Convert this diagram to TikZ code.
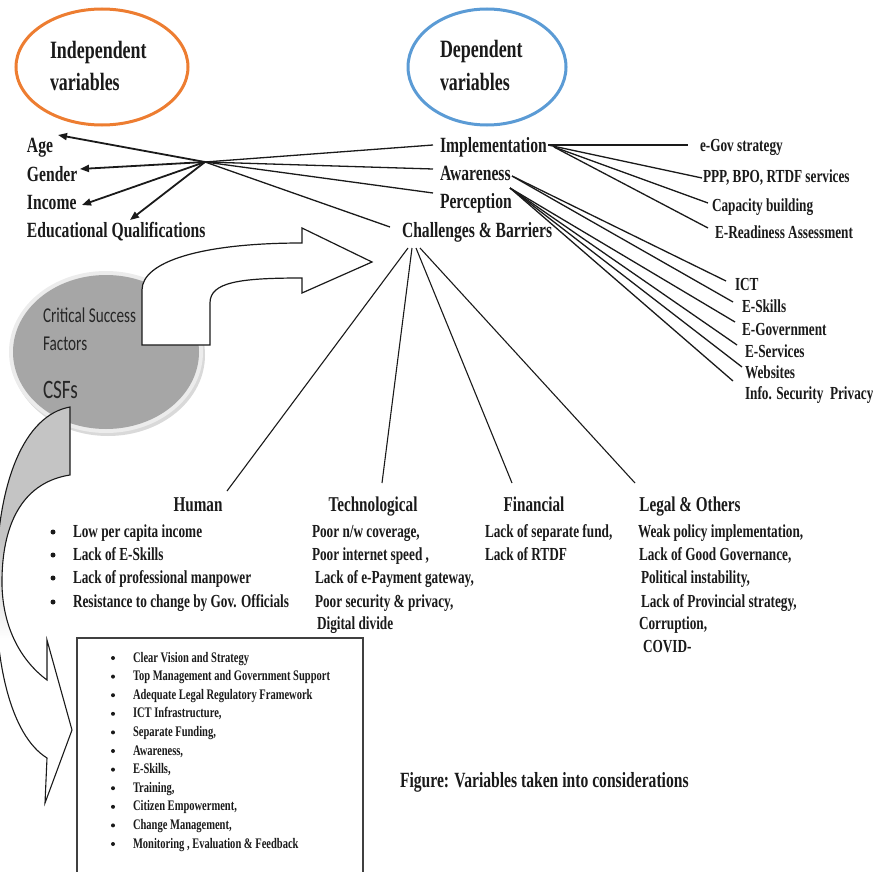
\documentclass[tikz,border=0pt]{standalone}
\usepackage{fontspec}
\setmainfont{Liberation Serif}[FakeStretch=0.72]
\newfontfamily\csffont{Carlito}[FakeStretch=0.72]
\usetikzlibrary{arrows.meta,shapes.geometric}
\definecolor{orng}{HTML}{ED7D31}
\definecolor{blu}{HTML}{5B9BD5}
\definecolor{csfgray}{HTML}{A6A6A6}
\definecolor{csfrim}{HTML}{ECECEC}
\definecolor{arrgray}{HTML}{C4C4C4}
\definecolor{ink}{HTML}{1A1A1A}
\begin{document}
\begin{tikzpicture}[x=1pt,y=-1pt,
  every node/.style={inner sep=0pt, outer sep=0pt, text=ink},
  lbl/.style={anchor=base west, font=\bfseries\fontsize{21.7}{26}\selectfont},
  head/.style={anchor=base west, font=\bfseries\fontsize{24.9}{30}\selectfont},
  cat/.style={anchor=base, font=\bfseries\fontsize{21.1}{25}\selectfont},
  item/.style={anchor=base west, font=\bfseries\fontsize{18.4}{22}\selectfont},
  boxitem/.style={anchor=base west, font=\bfseries\fontsize{14.6}{17}\selectfont},
  csft/.style={anchor=base west, text=black!85, font=\csffont\fontsize{21.1}{25}\selectfont},
  dot/.style={circle, fill=ink, minimum size=5pt},
  sdot/.style={circle, fill=ink, minimum size=4pt},
  arr/.style={draw=ink, line width=1.8pt, -{Triangle[length=9pt,width=7pt]}},
  conn/.style={draw=ink, line width=1.3pt},
  thinconn/.style={draw=ink, line width=1.1pt},
]
\useasboundingbox (0,0) rectangle (872,872);
\clip (0,0) rectangle (872,872);

% heading ellipses
\node (indepE) [ellipse, draw=orng, line width=3pt, minimum width=172pt, minimum height=116pt] at (102,67) {};
\node (depE) [ellipse, draw=blu, line width=3pt, minimum width=158pt, minimum height=116pt] at (487,67) {};
\node[head] (indep1) at (50,59) {Independent};
\node[head] (indep2) at (50,91) {variables};
\node[head] (dep1) at (440,58) {Dependent};
\node[head] (dep2) at (440,91) {variables};

% CSF ellipse
\fill[black!15] (108,355) ellipse (97 and 81);
\fill[csfrim] (106,352) ellipse (97 and 81);
\fill[csfgray] (106,352) ellipse (93 and 77);
\node[csft] (csf1) at (43,322) {Critical Success};
\node[csft] (csf2) at (43,350) {Factors};
\node[csft, font=\csffont\fontsize{26.6}{30}\selectfont] (csf3) at (43,398) {CSFs};

% upper white block arrow
\draw[draw=ink, fill=white, line width=1.2pt, line join=miter]
  (142,345) -- (142,290) .. controls (142,262) and (200,243) .. (302,243)
  -- (302,228) -- (372,262) -- (302,293) -- (302,278)
  .. controls (240,278) and (210,282) .. (210,303) -- (210,345) -- cycle;

% lower grey curved arrow
\begin{scope}
  \clip (70,407) -- (70,475) .. controls (25,482) and (3,520) .. (2,578)
    .. controls (1,625) and (20,660) .. (47,680) -- (47,640) -- (72,730)
    -- (45,803) -- (47,758) .. controls (10,735) and (-6,660) .. (-4,580)
    .. controls (-3,480) and (25,415) .. (70,407) -- cycle;
  \fill[white] (-10,400) rectangle (80,810);
  \fill[arrgray] (-10,400) rectangle (80,540);
  \shade[top color=arrgray, bottom color=white] (-10,540) rectangle (80,640);
\end{scope}
\draw[draw=ink, line width=1.1pt, line join=miter]
  (70,407) -- (70,475) .. controls (25,482) and (3,520) .. (2,578)
  .. controls (1,625) and (20,660) .. (47,680) -- (47,640) -- (72,730)
  -- (45,803) -- (47,758) .. controls (10,735) and (-6,660) .. (-4,580)
  .. controls (-3,480) and (25,415) .. (70,407) -- cycle;

% CSF list box
\node (csfbox) [draw=black!75, line width=1.2pt, minimum width=286pt, minimum height=250pt, anchor=north west] at (77,638) {};
\foreach \t [count=\i from 0] in {Clear Vision and Strategy,Top Management and Government Support,Adequate Legal Regulatory Framework,ICT Infrastructure{,},Separate Funding{,},Awareness{,},E-Skills{,},Training{,},Citizen Empowerment{,},Change Management{,},{Monitoring , Evaluation \& Feedback}} {
  \node[sdot] (bd\i) at (113,{658+18.6*\i}) {};
  \node[boxitem] (bx\i) at (133,{662+18.6*\i}) {\t};
}

% left labels
\node[lbl] (age) at (27,152) {Age};
\node[lbl] (gender) at (27,181) {Gender};
\node[lbl] (income) at (27,209) {Income};
\node[lbl] (edu) at (27,237) {Educational Qualifications};

% right labels
\node[lbl] (impl) at (440,152) {Implementation};
\node[lbl] (aware) at (440,180) {Awareness};
\node[lbl] (percep) at (440,208) {Perception};
\node[lbl] (chall) at (402,237) {Challenges \& Barriers};

% implementation items
\node[item] (egov) at (700,151) {e-Gov strategy};
\node[item] (ppp) at (703,182) {PPP, BPO, RTDF services};
\node[item] (cap) at (712,211) {Capacity building};
\node[item] (ered) at (715,238) {E-Readiness Assessment};

% awareness items
\node[item] (ict) at (735,290) {ICT};
\node[item] (esk) at (742,312) {E-Skills};
\node[item] (egv) at (742,335) {E-Government};
\node[item] (esv) at (745,357) {E-Services};
\node[item] (web) at (745,378) {Websites};
\node[item] (info) at (745,399) {Info. Security\ \ Privacy};

% categories
\node[cat] (human) at (198,511) {Human};
\node[cat] (tech) at (373,511) {Technological};
\node[cat] (fin) at (534,511) {Financial};
\node[cat] (legal) at (690,511) {Legal \& Others};

\node[dot] (hd1) at (53,532) {};
\node[dot] (hd2) at (53,555) {};
\node[dot] (hd3) at (53,578) {};
\node[dot] (hd4) at (53,602) {};
\node[item] (h1) at (73,537) {Low per capita income};
\node[item] (h2) at (73,560) {Lack of E-Skills};
\node[item] (h3) at (73,583) {Lack of professional manpower};
\node[item] (h4) at (73,607) {Resistance to change by Gov. Officials};

\node[item] (t1) at (312,537) {Poor n/w coverage,};
\node[item] (t2) at (312,560) {Poor internet speed ,};
\node[item] (t3) at (315,583) {Lack of e-Payment gateway,};
\node[item] (t4) at (315,607) {Poor security \& privacy,};
\node[item] (t5) at (317,629) {Digital divide};

\node[item] (f1) at (485,537) {Lack of separate fund,};
\node[item] (f2) at (485,560) {Lack of RTDF};

\node[item] (l1) at (638,537) {Weak policy implementation,};
\node[item] (l2) at (639,560) {Lack of Good Governance,};
\node[item] (l3) at (641,583) {Political instability,};
\node[item] (l4) at (641,607) {Lack of Provincial strategy,};
\node[item] (l5) at (639,629) {Corruption,};
\node[item] (l6) at (643,652) {COVID-};

% caption
\node[lbl] (caption) at (400,787) {Figure: Variables taken into considerations};

% connector end points
\coordinate (hub) at (205,162);
\coordinate (tAge) at (58,135);
\coordinate (tGen) at (80,169);
\coordinate (tInc) at (82,205);
\coordinate (tEdu) at (130,220);
\coordinate (eImpl) at (433,145);
\coordinate (eAware) at (433,169);
\coordinate (ePercep) at (433,193);
\coordinate (eChall) at (390,227);

\coordinate (iR) at (548,145);
\coordinate (iR2) at (554,147);
\coordinate (cEgov) at (688,145);
\coordinate (cPpp) at (702,178);
\coordinate (cCap) at (708,203);
\coordinate (cEred) at (708,228);

\coordinate (aR1) at (512,176);
\coordinate (aR2) at (510,188);
\coordinate (cIct) at (726,281);
\coordinate (cEsk) at (733,302);
\coordinate (cEgv) at (735,322);
\coordinate (cEsv) at (737,345);
\coordinate (cWeb) at (742,367);
\coordinate (cInfo) at (733,381);

\coordinate (ch1) at (408,248);
\coordinate (ch2) at (412,248);
\coordinate (ch3) at (416,248);
\coordinate (ch4) at (420,248);
\coordinate (cHum) at (227,491);
\coordinate (cTech) at (382,483);
\coordinate (cFin) at (512,483);
\coordinate (cLeg) at (635,483);

% connectors
\draw[arr] (hub) -- (tAge);
\draw[arr] (hub) -- (tGen);
\draw[arr] (hub) -- (tInc);
\draw[arr] (hub) -- (tEdu);
\draw[conn] (hub) -- (eImpl);
\draw[conn] (hub) -- (eAware);
\draw[conn] (hub) -- (ePercep);
\draw[conn] (hub) -- (eChall);

\draw[conn] (iR) -- (cEgov);
\draw[conn] (iR) -- (cPpp);
\draw[conn] (iR2) -- (cCap);
\draw[conn] (iR2) -- (cEred);

\draw[conn] (aR1) -- (cIct);
\draw[conn] (aR1) -- (cEsk);
\draw[conn] (aR2) -- (cEgv);
\draw[conn] (aR2) -- (cEsv);
\draw[conn] (aR2) -- (cWeb);
\draw[conn] (aR2) -- (cInfo);

\draw[thinconn] (ch1) -- (cHum);
\draw[thinconn] (ch2) -- (cTech);
\draw[thinconn] (ch3) -- (cFin);
\draw[thinconn] (ch4) -- (cLeg);
\end{tikzpicture}
\end{document}
